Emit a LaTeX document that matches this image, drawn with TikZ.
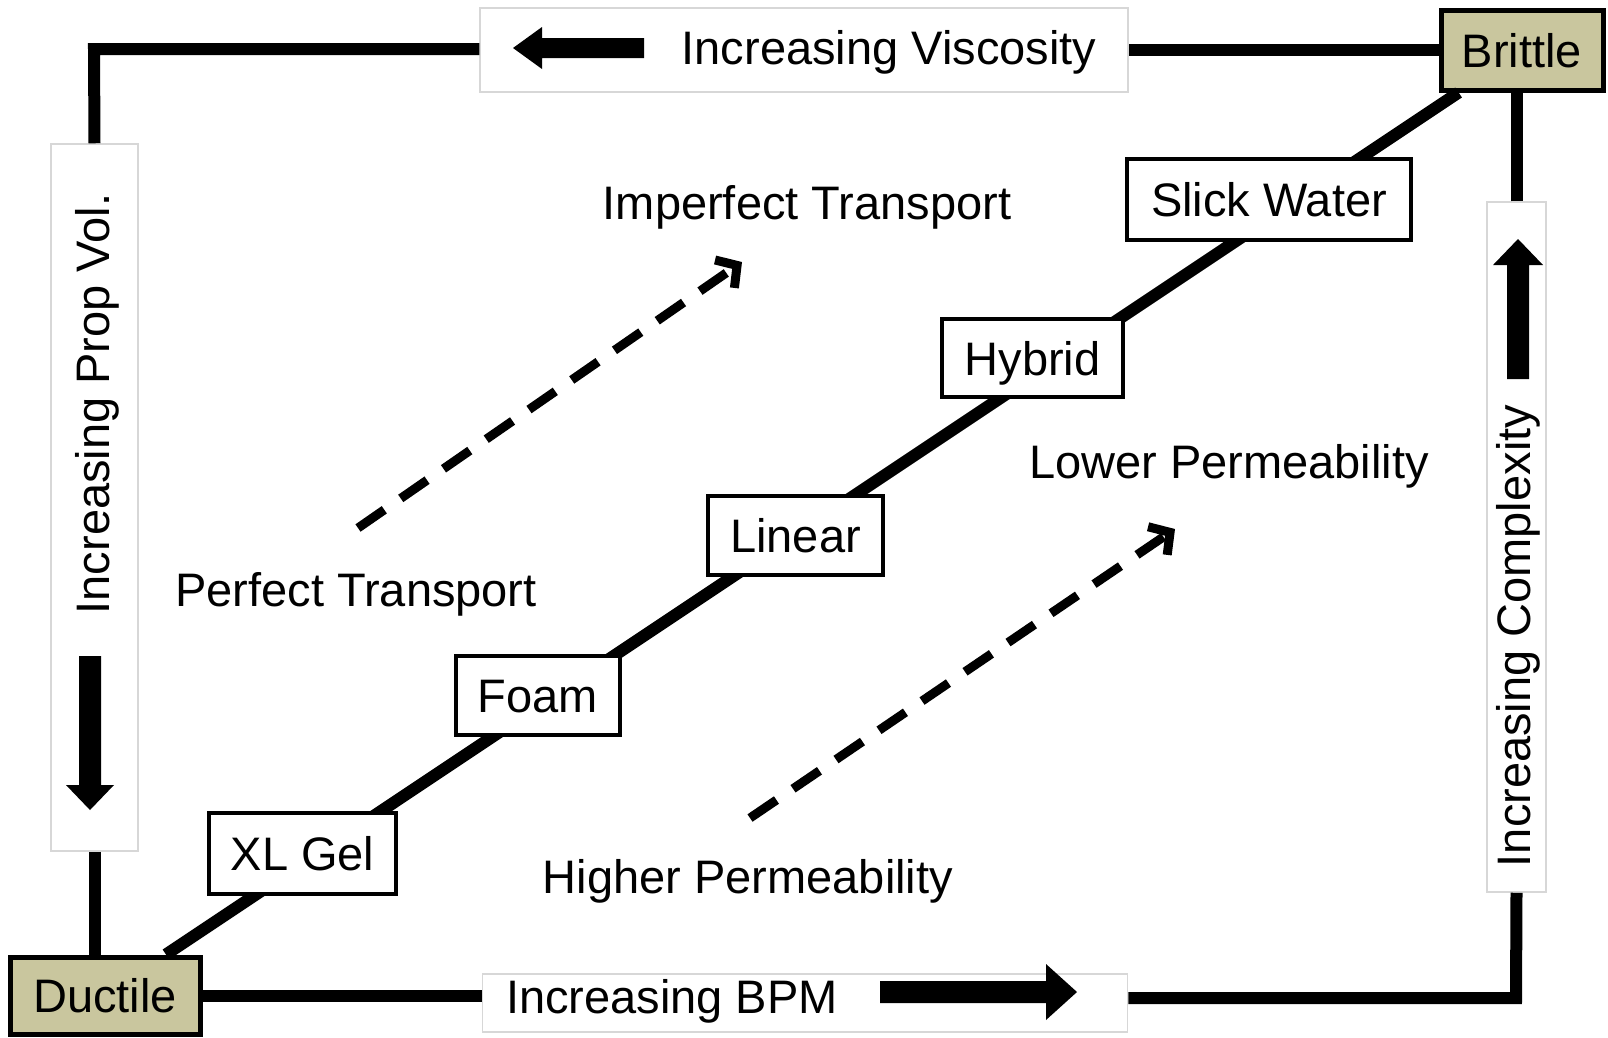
\documentclass[tikz,border=0pt]{standalone}
\usepackage{fontspec}
\setmainfont{Liberation Sans}
\usetikzlibrary{arrows.meta}
\definecolor{khaki}{RGB}{201,198,158}
\definecolor{lblgray}{RGB}{215,215,215}
\newcommand{\fsz}{\fontsize{47}{56}\selectfont}
\tikzset{
  txt/.style={font=\fsz, text height=34pt, text depth=0pt, inner sep=0pt},
  frame/.style={line width=12pt, line join=miter, line cap=butt},
  endbox/.style={txt, draw=black, line width=5pt, fill=khaki},
  fluidbox/.style={txt, draw=black, line width=4.5pt, fill=white},
  lblbox/.style={draw=lblgray, line width=1.5pt, fill=white, inner sep=0pt},
  dasharrow/.style={line width=9pt, dash pattern=on 32pt off 20pt, -{Straight Barb[length=15pt,width=34pt]}},
  blockarrow/.style={fill=black}
}
\begin{document}
\begin{tikzpicture}[x=1pt,y=-1pt]
\useasboundingbox (0,0) rectangle (1608,1037);
\fill[white] (0,0) rectangle (1608,1037);

% label boxes
\node[lblbox, minimum width=648pt, minimum height=84pt] (vis) at (804,50) {};
\node[lblbox, minimum width=645pt, minimum height=58pt] (bpm) at (805,1003) {};
\node[lblbox, minimum width=87pt, minimum height=707pt] (prop) at (94.5,497.5) {};
\node[lblbox, minimum width=59pt, minimum height=690pt] (cx) at (1516.5,547) {};

% corner boxes
\node[endbox, minimum width=190pt, minimum height=77pt] (duct) at (105,995.5) {Ductile};
\node[endbox, minimum width=162pt, minimum height=80pt] (brit) at (1522,50) {Brittle};

\coordinate (tl) at (94,49);
\coordinate (br) at (1516,998);

% frame
\draw[frame] (tl -| vis.west) -- (tl) -- (prop.north);
\draw[frame] (prop.south) -- (prop.south |- duct.north);
\draw[frame] (duct.east) -- (duct.east -| bpm.west);
\draw[frame] (bpm.east |- br) -- (br) -- (cx.south);
\draw[frame] (cx.north) -- (cx.north |- brit.south);
\draw[frame] (brit.west) -- (brit.west -| vis.east);

% diagonal
\draw[line width=12pt] (duct) -- (brit);

% fluid boxes
\node[fluidbox, minimum width=187pt, minimum height=81pt] (xl) at (302.5,853.5) {XL Gel};
\node[fluidbox, minimum width=164pt, minimum height=79pt] (foam) at (538,695.5) {Foam};
\node[fluidbox, minimum width=175pt, minimum height=79pt] (lin) at (795.5,535.5) {Linear};
\node[fluidbox, minimum width=181pt, minimum height=78pt] (hyb) at (1032.5,358) {Hybrid};
\node[fluidbox, minimum width=284pt, minimum height=81pt] (slick) at (1269,199.5) {Slick Water};

% label texts
\node[txt] (tvis) at (889,47.7) {Increasing Viscosity};
\node[txt] (tbpm) at (672,996) {Increasing BPM};
\node[txt, rotate=90] (tprop) at (92,404) {Increasing Prop Vol.};
\node[txt, rotate=90] (tcx) at (1513,636) {Increasing Complexity};

% free texts
\node[txt] (imp) at (807,202.5) {Imperfect Transport};
\node[txt] (perf) at (356,589) {Perfect Transport};
\node[txt] (low) at (1229,461) {Lower Permeability};
\node[txt] (high) at (748,876) {Higher Permeability};

% block arrows
\fill[blockarrow] (513,48) -- (542,27) -- (542,38) -- (644,38) -- (644,58) -- (542,58) -- (542,69) -- cycle;
\fill[blockarrow] (880,981) -- (1046,981) -- (1046,964) -- (1077,992) -- (1046,1020) -- (1046,1003) -- (880,1003) -- cycle;
\fill[blockarrow] (79,656) -- (101,656) -- (101,785) -- (114,785) -- (90,810) -- (66,785) -- (79,785) -- cycle;
\fill[blockarrow] (1507,379) -- (1529,379) -- (1529,265) -- (1543,265) -- (1518,239) -- (1493,265) -- (1507,265) -- cycle;

% dashed arrows
\coordinate (d1s) at (358,528);
\coordinate (d1e) at (742,262);
\coordinate (d2s) at (750,818);
\coordinate (d2e) at (1175,529);
\draw[dasharrow] (d1s) -- (d1e);
\draw[dasharrow] (d2s) -- (d2e);
\end{tikzpicture}
\end{document}
